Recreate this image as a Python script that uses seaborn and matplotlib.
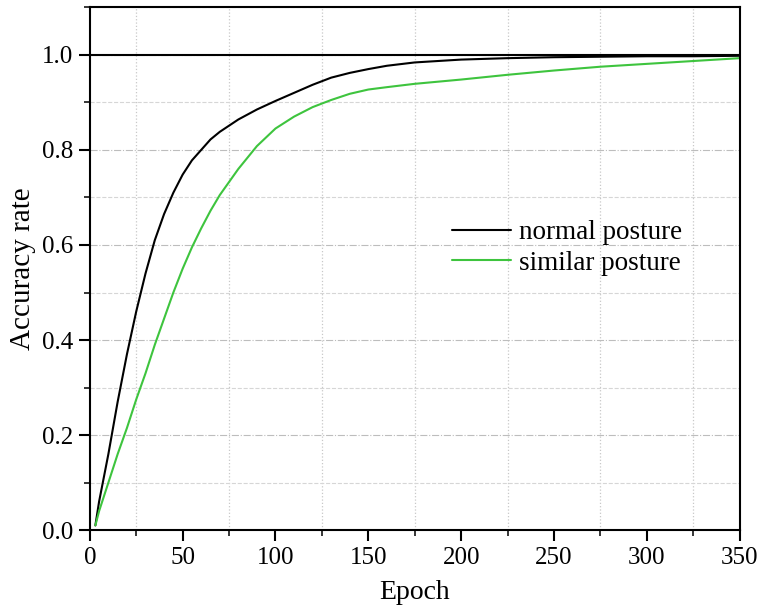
import pandas as pd
import matplotlib
matplotlib.use('Agg')
import matplotlib.pyplot as plt
import seaborn as sns
from matplotlib.ticker import MultipleLocator

# values
epochs = [3, 5, 10, 15, 20, 25, 30, 35, 40, 45, 50, 55, 60, 65, 70, 80, 90, 100,
          110, 120, 130, 140, 150, 160, 175, 200, 225, 250, 275, 300, 325, 350]
normal_acc = [0.01, 0.06, 0.16, 0.27, 0.37, 0.46, 0.54, 0.61, 0.665, 0.71, 0.748,
              0.778, 0.80, 0.822, 0.838, 0.864, 0.885, 0.903, 0.92, 0.937, 0.952, 0.962,
              0.97, 0.977, 0.984, 0.99, 0.993, 0.995, 0.996, 0.997, 0.997, 0.998]
similar_acc = [0.01, 0.04, 0.10, 0.16, 0.215, 0.275, 0.33, 0.39, 0.445, 0.50, 0.55,
               0.595, 0.635, 0.672, 0.705, 0.76, 0.808, 0.845, 0.87, 0.89, 0.905, 0.918,
               0.927, 0.932, 0.939, 0.948, 0.958, 0.967, 0.975, 0.981, 0.987, 0.993]

sns.set_theme(style='ticks')
plt.rcParams['font.family'] = ['Liberation Serif', 'DejaVu Serif']
plt.rcParams['text.color'] = 'black'
plt.rcParams['axes.labelcolor'] = 'black'

fig, ax = plt.subplots(figsize=(7.61, 6.08), dpi=100)
fig.subplots_adjust(left=0.118, right=0.972, top=0.988, bottom=0.128)

sns.lineplot(x=epochs, y=normal_acc, color='black', lw=1.5, label='normal posture', ax=ax)
sns.lineplot(x=epochs, y=similar_acc, color='#3ec43e', lw=1.5, label='similar posture', ax=ax)
ax.axhline(1.0, color='black', lw=1.5, zorder=3)

ax.set_xlim(0, 350)
ax.set_ylim(0, 1.1)
ax.xaxis.set_major_locator(MultipleLocator(50))
ax.xaxis.set_minor_locator(MultipleLocator(25))
ax.yaxis.set_major_locator(MultipleLocator(0.2))
ax.yaxis.set_minor_locator(MultipleLocator(0.1))
ax.set_yticks([0.0, 0.2, 0.4, 0.6, 0.8, 1.0])

ax.yaxis.grid(True, which='major', ls='-.', color='#bdbdbd', lw=0.8)
ax.yaxis.grid(True, which='minor', ls='--', color='#d6d6d6', lw=0.8)
ax.xaxis.grid(True, which='minor', ls=':', color='#c8c8c8', lw=0.9)
ax.set_axisbelow(True)

ax.tick_params(which='major', direction='out', length=8, width=1.5, labelsize=18,
               colors='black', pad=4)
ax.tick_params(which='minor', direction='out', length=4, width=1.3)
for s in ax.spines.values():
    s.set_linewidth(1.5)
    s.set_color('black')

ax.set_xlabel('Epoch', fontsize=20, labelpad=8)
ax.set_ylabel('Accuracy rate', fontsize=21, labelpad=4)

ax.legend(loc='center left', bbox_to_anchor=(0.557, 0.54), frameon=False, fontsize=19.5,
          handlelength=2.2, handletextpad=0.3, borderpad=0, borderaxespad=0, labelspacing=0.2)

plt.savefig('out.png', dpi=100)
